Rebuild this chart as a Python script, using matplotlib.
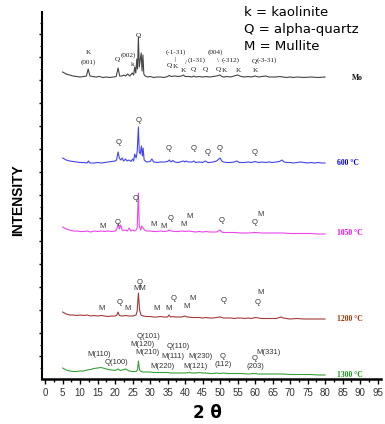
import numpy as np
import matplotlib
matplotlib.use("Agg")
import matplotlib.pyplot as plt

# 2theta positions and intensities (arbitrary units)
mo_x = [5, 6, 7, 8, 9, 10, 11, 11.8, 12.3, 12.8, 13.5, 14.5, 15.5, 16.5, 17.5, 18.5, 19.5, 20.3, 20.85, 21.3,
        22, 22.5, 23, 23.6, 24.2, 24.9, 25.3, 25.6, 25.9, 26.2, 26.4, 26.65, 26.9, 27.2, 27.45, 27.7, 27.95, 28.2,
        28.6, 29.2, 30, 31, 32, 33, 34, 35, 35.5, 36, 37, 38, 39, 39.5, 40, 41, 42, 42.5, 43, 44, 45, 46, 47, 48,
        49, 50, 50.5, 51, 52, 53, 54, 55, 56, 57, 58, 59, 60, 61, 62, 63, 64, 65, 66, 67, 68, 69, 70, 71, 72, 74,
        76, 78, 80]
mo_y = [7, 5, 4, 3, 2.5, 2, 2.5, 3, 10, 3, 2.5, 2, 2.5, 1.5, 2, 1.5, 2, 2.5, 11, 3,
        3, 4, 3, 5, 3, 6, 4, 12, 6, 20, 10, 42, 12, 20, 26, 8, 24, 5,
        3, 2, 2.5, 1.5, 2, 2, 1.5, 2.5, 3.5, 2.5, 3, 2.5, 3, 4, 2.5, 2.5, 2, 3, 2, 2.5, 2, 2.5, 2, 2.5,
        3, 4, 2.5, 2, 2.5, 2, 3, 4, 2.5, 2, 2.5, 2, 3, 2, 2.5, 3, 2, 2, 2, 2.5, 2, 1.5, 2, 1.5, 2, 1.5,
        2, 1.5, 2]

t600_x = [5, 6, 7, 8, 9, 10, 11, 12, 12.4, 12.8, 14, 15, 16, 17, 18, 19, 20, 20.4, 20.85, 21.2, 21.6, 22,
          22.4, 23, 23.4, 24, 24.5, 25, 25.3, 25.6, 26, 26.3, 26.65, 26.9, 27.2, 27.5, 27.8, 28, 28.3, 29, 30,
          30.5, 31, 32, 33, 34, 35, 35.5, 36, 36.5, 37, 38, 39, 39.5, 40, 40.3, 41, 42, 42.5, 43, 44, 45, 45.8,
          46.5, 47, 48, 49, 50, 50.5, 51, 52, 53, 54, 54.8, 55.5, 57, 58, 59, 60, 60.5, 61, 62, 63, 64, 65, 66,
          67, 67.7, 68.3, 69, 70, 71, 72, 73, 74, 75, 76, 77, 78, 79, 80]
t600_y = [6, 4, 3, 2.5, 2, 1.5, 1.5, 1, 3, 1, 1, 1.5, 1, 1.5, 2, 2.5, 3, 4, 12, 6, 4, 6,
          3, 5, 3, 4, 2.5, 5, 3, 10, 6, 12, 37, 12, 10, 18, 8, 16, 4, 2, 2.5,
          5, 2, 1.5, 2, 2, 2.5, 4, 2, 3.5, 2, 1.5, 2.5, 3, 2, 3, 2, 2, 3, 1.5, 2, 1.5, 3,
          1.5, 1.5, 2, 3, 6, 3, 2, 1.5, 1.5, 2, 3, 1.5, 1.5, 2, 1.5, 2.5, 2, 1.5, 2, 1.5, 2, 1.5, 2,
          2.5, 4, 2, 1.5, 1.5, 1, 1.5, 2, 1.5, 1, 1.5, 1, 1.5, 1, 1]

t1050_x = [5, 6, 7, 8, 9, 10, 11, 12, 13, 14, 15, 16, 17, 18, 19, 20, 20.5, 20.85, 21.2, 21.6, 22, 22.5, 23,
           23.5, 24, 24.5, 25, 25.5, 26, 26.3, 26.65, 26.9, 27.3, 27.6, 28, 28.4, 29, 30, 31, 32, 33, 34, 35,
           35.5, 36, 37, 38, 39, 40, 41, 42, 43, 44, 45, 46, 47, 48, 49, 50, 50.5, 51, 52, 54, 56, 58, 60, 62,
           64, 66, 68, 70, 72, 74, 76, 78, 80]
t1050_y = [7, 5, 4, 3, 3, 2.5, 2.5, 3, 2, 3, 2.5, 3, 2.5, 3, 2.5, 3, 5, 10, 5, 9, 4, 3.5, 4,
           3, 6, 3, 4, 3, 4, 6, 41, 8, 4, 8, 6, 4, 3, 3, 2.5, 2.5, 3, 2.5, 3,
           4, 3, 2.5, 2.5, 3, 2.5, 3, 2.5, 2, 2.5, 2, 2.5, 2, 2, 2, 4, 2, 1.5, 1.5, 1.5, 1, 1, 1.5, 1,
           1, 1, 1, 0.5, 0.5, 0.5, 0.5, 0, 0]

t1200_x = [5, 6, 7, 8, 9, 10, 11, 12, 13, 14, 15, 16, 17, 18, 19, 20, 20.5, 20.85, 21.2, 22, 23, 24, 25, 26,
           26.3, 26.65, 27, 27.4, 28, 29, 30, 31, 32, 33, 34, 35, 35.4, 35.8, 36.5, 37, 38, 39, 40, 40.5, 41,
           42, 43, 44, 45, 46, 47, 48, 49, 50, 51, 52, 53, 54, 55, 56, 57, 58, 59, 60, 61, 62, 63, 64, 65, 66,
           67, 67.5, 68, 69, 70, 72, 74, 76, 78, 80]
t1200_y = [8, 6, 5, 5, 4.5, 5, 4.5, 5, 4, 4.5, 4, 4.5, 4, 3.5, 4, 4, 5, 8, 4.5, 4, 4.5, 4, 4, 5,
           9, 27, 10, 5, 4, 3.5, 3.5, 3, 3, 3.5, 3, 3, 5, 3, 3.5, 3, 3, 3, 4, 3, 3,
           2.5, 2.5, 2.5, 2, 2.5, 2, 2, 2.5, 3, 2, 2, 2, 1.5, 2, 2, 1.5, 2, 1.5, 2.5, 2, 1.5, 1.5, 1.5, 1.5, 1.5,
           2.5, 3, 2, 1.5, 1, 1.5, 1, 1, 1, 1]

t1300_x = [5, 6, 7, 8, 9, 10, 11, 12, 13, 14, 15, 16, 17, 18, 19, 20, 20.8, 21.5, 22, 23, 23.5, 24, 25, 26,
           26.4, 26.65, 27, 27.4, 28, 29, 30, 31, 32, 33, 34, 35, 36, 37, 38, 39, 40, 41, 42, 43, 44, 45, 46,
           47, 48, 49, 50, 51, 52, 54, 56, 58, 60, 61, 62, 64, 66, 68, 70, 72, 74, 76, 78, 80]
t1300_y = [8, 6, 5, 4.5, 4.5, 5, 5, 6, 6.5, 7.5, 8, 8.5, 7.5, 6.5, 6, 5.5, 7, 5.5, 6, 7, 6, 5, 4.5, 4.5,
           6, 15, 6, 4.5, 4, 4, 4, 3.5, 3.5, 3.5, 3.5, 3.5, 3, 3, 3, 3, 3, 3.5, 3, 3, 3.5, 3, 3,
           2.5, 2.5, 3, 2.5, 3, 2.5, 2.5, 2.5, 2, 2.5, 2, 2, 2, 2, 2, 1.5, 1.5, 1.5, 1.5, 1, 1]

trace_names = ["Mo", "600 \u00b0C", "1050 \u00b0C", "1200 \u00b0C", "1300 \u00b0C"]

# peak labels: (text, 2theta, height)
mo_labels = [("K", 12.3, 326), ("(001)", 12.3, 317), ("Q", 20.7, 319), ("(002)", 23.8, 324), ("k", 25.0, 314),
             ("Q", 26.7, 343), ("(-1-31)", 37.3, 327), ("|", 37.2, 319.5), ("Q", 35.5, 313), ("K", 37.3, 313),
             ("/", 40.2, 316), ("(1-31)", 43.4, 319), ("K", 39.5, 309), ("Q", 42.4, 310), ("Q", 45.7, 310),
             ("(004)", 48.6, 327), ("\\", 49.3, 319), ("(-312)", 52.9, 319), ("Q", 49.6, 310), ("K", 51.2, 308),
             ("K", 55.2, 308), ("Q", 59.7, 318), ("(-3-31)", 63.4, 319), ("K", 60.0, 308)]
t600_labels = [("Q", 20.9, 236), ("Q", 26.7, 258), ("Q", 35.2, 230), ("Q", 42.4, 230), ("Q", 46.3, 226),
               ("Q", 49.8, 230), ("Q", 59.8, 227)]
t1050_labels = [("M", 16.3, 153), ("Q", 20.6, 157), ("Q", 25.8, 181), ("M", 30.9, 154), ("M", 33.8, 152),
                ("Q", 36.0, 160), ("M", 39.5, 154), ("M", 41.2, 162), ("Q", 50.4, 158), ("Q", 59.8, 157),
                ("M", 61.5, 164)]
t1200_labels = [("Q", 26.9, 97), ("MM", 26.9, 90), ("M", 16.0, 71), ("Q", 21.2, 76), ("M", 23.7, 71),
                ("M", 31.8, 70), ("M", 35.3, 71), ("Q", 36.6, 80), ("M", 40.3, 72), ("M", 42.0, 80),
                ("Q", 51.0, 79), ("M", 61.5, 87), ("Q", 60.7, 77)]
t1300_labels = [("Q(101)", 29.5, 43), ("M(120)", 27.7, 35), ("M(210)", 29.2, 26), ("M(110)", 15.5, 25),
                ("Q(100)", 20.5, 17), ("Q(110)", 38.0, 32), ("M(111)", 36.6, 22), ("M(220)", 33.4, 13),
                ("M(230)", 44.3, 22), ("M(121)", 42.9, 13), ("Q", 50.6, 22), ("(112)", 50.8, 14),
                ("Q", 59.8, 21), ("(203)", 60.1, 12), ("M(331)", 63.9, 27)]

key_lines = ["k = kaolinite", "Q = alpha-quartz", "M = Mullite"]


def plot_data():
    fig = plt.figure(figsize=(3.85, 4.24), dpi=100)
    ax = fig.add_axes([42 / 385, 45 / 424, 339 / 385, 367 / 424])

    traces = [(mo_x, mo_y), (t600_x, t600_y), (t1050_x, t1050_y), (t1200_x, t1200_y), (t1300_x, t1300_y)]
    offsets = [300, 215, 145, 59, 3]
    colors = ["#444444", "#4444ee", "#ee44ee", "#a33a3a", "#3aa03a"]
    name_colors = ["#111111", "#0000dd", "#ee00ee", "#993300", "#119911"]
    name_x = [87.8, 83.5, 83.5, 83.5, 83.3]
    label_sets = [mo_labels, t600_labels, t1050_labels, t1200_labels, t1300_labels]

    for i, (x, y) in enumerate(traces):
        ax.plot(x, np.array(y) + offsets[i], color=colors[i], lw=0.8)
        ax.text(name_x[i], offsets[i] + 1, trace_names[i], color=name_colors[i], fontsize=5.5,
                fontweight="bold", family="Liberation Serif", ha="left", va="center")
        for txt, px, py in label_sets[i]:
            if i == 0:
                ax.text(px, py, txt, fontsize=5.2, family="Liberation Serif", color="#222222",
                        ha="center", va="center")
            else:
                ax.text(px, py, txt, fontsize=5.5, family="Liberation Sans", color="#333333",
                        ha="center", va="center")

    for j, line in enumerate(key_lines):
        ax.text(56.7, 366 - 16.5 * j, line, fontsize=9.5, family="DejaVu Sans", ha="left", va="center")

    ax.set_xlim(-0.9, 96)
    ax.set_ylim(0, 367)
    ax.set_xticks(np.arange(0, 96, 5))
    ax.set_xticks(np.arange(0, 96, 2.5), minor=True)
    ax.set_yticks(np.arange(23, 350, 23))
    ax.set_yticks(np.arange(11.5, 360, 23), minor=True)
    ax.set_yticklabels([])
    ax.tick_params(axis="x", which="major", length=3.5, width=1, labelsize=7, labelcolor="#333333", pad=3)
    ax.tick_params(axis="x", which="minor", length=2.5, width=1)
    ax.tick_params(axis="y", which="major", length=2.5, width=1)
    ax.tick_params(axis="y", which="minor", length=1.5, width=0.8)
    for lab in ax.get_xticklabels():
        lab.set_family("Liberation Sans")

    ax.spines["top"].set_visible(False)
    ax.spines["right"].set_visible(False)
    ax.spines["left"].set_linewidth(1.5)
    ax.spines["bottom"].set_linewidth(1.8)

    fig.text(18 / 385, 1 - 200 / 424, "INTENSITY", rotation=90, fontsize=10, fontweight="bold",
             family="Liberation Sans", ha="center", va="center")
    fig.text(207 / 385, 1 - 413 / 424, "2 \u03b8", fontsize=12, fontweight="bold",
             family="DejaVu Sans", ha="center", va="center")

    fig.savefig("out.png", dpi=100)


def main():
    plot_data()


if __name__ == "__main__":
    main()
